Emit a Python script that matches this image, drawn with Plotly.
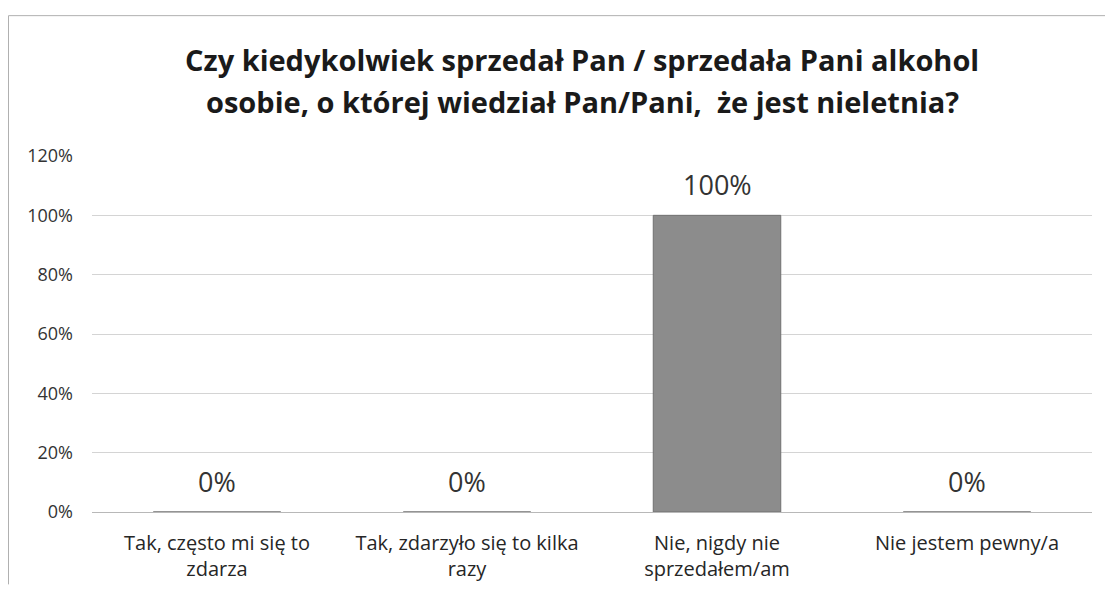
import plotly.graph_objects as go

categories = [
    "Tak, często mi się to<br>zdarza",
    "Tak, zdarzyło się to kilka<br>razy",
    "Nie, nigdy nie<br>sprzedałem/am",
    "Nie jestem pewny/a",
]
values = [0, 0, 100, 0]
value_labels = ["0%", "0%", "100%", "0%"]
y_ticks = [0, 20, 40, 60, 80, 100, 120]
y_ticklabels = ["0%", "20%", "40%", "60%", "80%", "100%", "120%"]
title_lines = [
    "Czy kiedykolwiek sprzedał Pan / sprzedała Pani alkohol",
    "osobie, o której wiedział Pan/Pani,  że jest nieletnia?",
]

FONT = "Open Sans"
# page has an 8px body margin; figure sized to fill the rest of the window
W, H = 1105, 586
L, R, T, B = 84, 21, 148, 74
pw = W - L - R
ph = H - T - B


def px_x(x):
    return (x - L) / pw


def px_y(y):
    return 1 + (T - y) / ph


fig = go.Figure()
fig.add_trace(go.Bar(
    x=categories, y=values,
    marker=dict(color="#8c8c8c", line=dict(color="#707070", width=1)),
    width=0.51,
    hoverinfo="skip",
))

for c, v, t in zip(categories, values, value_labels):
    fig.add_annotation(
        x=c, y=v, text=t, showarrow=False,
        yshift=31,
        font=dict(family=FONT, size=27, color="#333333"),
    )

# title, two lines with Excel-like line spacing
for i, line in enumerate(title_lines):
    fig.add_annotation(
        xref="paper", yref="paper",
        x=px_x(574), y=px_y(49 + 43 * i),
        xanchor="center", yanchor="middle",
        text="<b>" + line + "</b>", showarrow=False,
        font=dict(family=FONT, size=29, color="#1a1a1a"),
    )

# chart frame (top and left edges visible in the scan)
fig.add_shape(type="line", xref="paper", yref="paper",
              x0=px_x(0.5), x1=px_x(W), y0=px_y(4.5), y1=px_y(4.5),
              line=dict(color="#b0b0b0", width=1), layer="below")
fig.add_shape(type="line", xref="paper", yref="paper",
              x0=px_x(0.5), x1=px_x(0.5), y0=px_y(4.5), y1=px_y(H),
              line=dict(color="#b0b0b0", width=1), layer="below")

fig.update_layout(
    width=W, height=H,
    margin=dict(l=L, r=R, t=T, b=B),
    paper_bgcolor="white", plot_bgcolor="white",
    showlegend=False,
    font=dict(family=FONT, color="#404040"),
)
fig.update_xaxes(
    showgrid=False, showline=False, ticks="",
    tickfont=dict(family=FONT, size=20, color="#262626"),
    ticklabelstandoff=17,
    range=[-0.5, 3.5],
)
fig.update_yaxes(
    range=[0, 120], tickvals=y_ticks, ticktext=y_ticklabels,
    showgrid=True, gridcolor="#d4d4d4", gridwidth=1,
    zeroline=True, zerolinecolor="#b8b8b8", zerolinewidth=1,
    showline=False, ticks="", ticklabelstandoff=18,
    tickfont=dict(family=FONT, size=18, color="#333333"),
)

fig.write_html("out.html")
